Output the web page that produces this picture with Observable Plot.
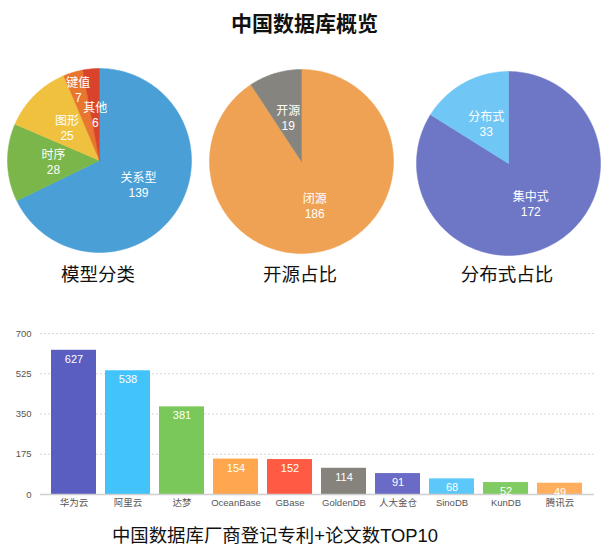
<!DOCTYPE html>
<html>
<head>
<meta charset="utf-8">
<script src="https://cdn.jsdelivr.net/npm/d3@7"></script>
<script src="https://cdn.jsdelivr.net/npm/@observablehq/plot@0.6"></script>
<style>
  html, body { margin: 0; padding: 0; background: #fff; }
  body { width: 609px; height: 555px; position: relative; overflow: hidden;
         font-family: "Liberation Sans", "Noto Sans CJK SC", sans-serif; color: #111; }
  .abs { position: absolute; }
  .title { left: 0; width: 609px; top: 13px; text-align: center; font-size: 21px; line-height: 22px; font-weight: bold; }
  .plabel { width: 160px; text-align: center; font-size: 18.5px; line-height: 20px; top: 265px; }
  .caption { width: 400px; text-align: center; font-size: 18.4px; line-height: 22px; top: 525px; left: 75px; }
</style>
</head>
<body>
<div class="abs title">中国数据库概览</div>
<div id="pie1" class="abs" style="left:4px; top:65px"></div>
<div id="pie2" class="abs" style="left:206px; top:66px"></div>
<div id="pie3" class="abs" style="left:413px; top:68px"></div>
<div class="abs plabel" style="left:18px">模型分类</div>
<div class="abs plabel" style="left:220px">开源占比</div>
<div class="abs plabel" style="left:427px">分布式占比</div>
<div id="bars" class="abs" style="left:0; top:320px"></div>
<div class="abs caption">中国数据库厂商登记专利+论文数TOP10</div>
<script>
// ---- data ----
const modelNames = ["关系型", "时序", "图形", "键值", "其他"];
const modelValues = [139, 28, 25, 7, 6];
const openNames = ["闭源", "开源"];
const openValues = [186, 19];
const distNames = ["集中式", "分布式"];
const distValues = [172, 33];

const vendorNames = ["华为云", "阿里云", "达梦", "OceanBase", "GBase", "GoldenDB", "人大金仓", "SinoDB", "KunDB", "腾讯云"];
const vendorValues = [627, 538, 381, 154, 152, 114, 91, 68, 52, 49];
const yTicks = [0, 175, 350, 525, 700];

// ---- styles ----
const modelColors = ["#4a9fd6", "#7bb64b", "#efc13f", "#e8762e", "#d9432c"];
const openColors = ["#efa254", "#85847f"];
const distColors = ["#6e77c6", "#70c6f5"];
const vendorColors = ["#5b5ec1", "#42c4fb", "#7bc85a", "#ffa64f", "#ff5b44", "#86837c", "#6a6bc6", "#5cc8fa", "#80cc62", "#ffae5e"];
const FONT = '"Liberation Sans", "Noto Sans CJK SC", sans-serif';
const labelRadius = {"键值": 0.8};

function pie(el, names, values, colors) {
  const arcs = d3.pie().sort(null).value(d => d)(values);
  const pts = [];
  const labels = [];
  arcs.forEach((a, i) => {
    const n = Math.max(2, Math.ceil((a.endAngle - a.startAngle) / (Math.PI / 180)));
    pts.push({k: names[i], c: colors[i], x: 0, y: 0});
    for (let j = 0; j <= n; j++) {
      const t = a.startAngle + (a.endAngle - a.startAngle) * j / n;
      pts.push({k: names[i], c: colors[i], x: Math.sin(t), y: Math.cos(t)});
    }
    pts.push({k: names[i], c: colors[i], x: 0, y: 0});
    const m = (a.startAngle + a.endAngle) / 2;
    const r = labelRadius[names[i]] ?? 0.5;
    labels.push({text: names[i] + "\n" + values[i], x: Math.sin(m) * r, y: Math.cos(m) * r});
  });
  const p = Plot.plot({
    width: 190, height: 190, margin: 3,
    x: {domain: [-1, 1], axis: null},
    y: {domain: [-1, 1], axis: null},
    style: {fontFamily: FONT, background: "transparent"},
    marks: [
      Plot.line(pts, {x: "x", y: "y", z: "k", fill: "c", stroke: "c", strokeWidth: 0.5}),
      Plot.text(labels, {x: "x", y: "y", text: "text", fill: "white", fontSize: 12, lineHeight: 1.25})
    ]
  });
  document.getElementById(el).appendChild(p);
}

pie("pie1", modelNames, modelValues, modelColors);
pie("pie2", openNames, openValues, openColors);
pie("pie3", distNames, distValues, distColors);

const vendors = vendorNames.map((n, i) => ({name: n, value: vendorValues[i], color: vendorColors[i]}));
const bars = Plot.plot({
  width: 609, height: 200,
  marginTop: 13, marginBottom: 26, marginLeft: 40, marginRight: 15,
  style: {fontFamily: FONT, fontSize: "9.5px", color: "#555", background: "transparent"},
  x: {domain: vendorNames, padding: 0.16, tickSize: 0, tickPadding: 5, label: null},
  y: {domain: [0, 700], ticks: yTicks, tickSize: 0, tickPadding: 9, label: null},
  marks: [
    Plot.ruleY(yTicks.filter(d => d > 0), {stroke: "#d6d6d6", strokeDasharray: "2,2"}),
    Plot.barY(vendors, {x: "name", y: "value", fill: "color"}),
    Plot.ruleY([0], {stroke: "#cfcfcf", strokeWidth: 1.5}),
    Plot.text(vendors, {x: "name", y: "value", text: d => String(d.value), dy: 9, fill: "white", fontSize: 11, fontWeight: 500})
  ]
});
document.getElementById("bars").appendChild(bars);
</script>
</body>
</html>
